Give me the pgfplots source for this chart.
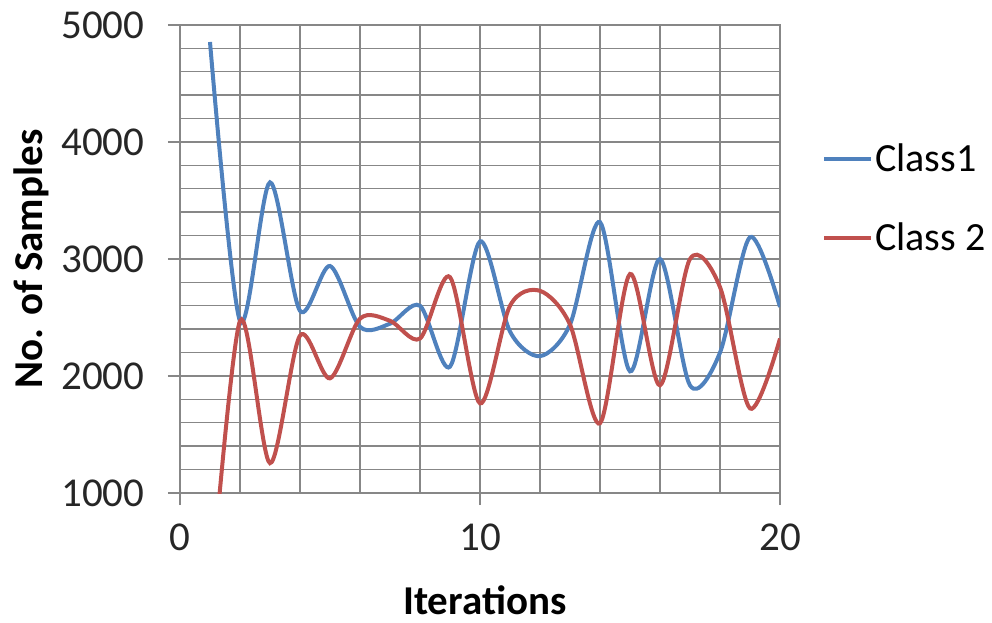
\documentclass[border=0pt]{standalone}
\usepackage{pgfplots}
\pgfplotsset{compat=1.18}
\usepackage{fontspec}
\setmainfont{Carlito}
\definecolor{cblue}{HTML}{4F81BD}
\definecolor{cred}{HTML}{C0504D}
\definecolor{cgrid}{RGB}{135,135,135}
\begin{document}
\begin{tikzpicture}
\useasboundingbox (-180pt,-130pt) rectangle (812pt,493pt);
\begin{axis}[
  scale only axis,
  width=600pt, height=468pt,
  xmin=0, xmax=20, ymin=1000, ymax=5000,
  xtick={0,10,20}, ytick={1000,2000,3000,4000,5000},
  minor x tick num=4, minor y tick num=4,
  grid=both,
  major grid style={cgrid, line width=1.4pt},
  minor grid style={cgrid, line width=1.4pt},
  axis line style={cgrid, line width=1.4pt},
  tick style={cgrid, line width=1.4pt},
  tick align=outside,
  major tick length=12pt, minor tick length=0pt,
  xtick pos=bottom, ytick pos=left,
  /pgf/number format/assume math mode=true,
  /pgf/number format/1000 sep={},
  tick label style={font=\fontsize{41}{48}\selectfont, text=black!85},
  xticklabel style={yshift=-15pt},
  yticklabel style={xshift=-20pt},
  label style={font=\bfseries\fontsize{41}{48}\selectfont},
  xlabel={Iterations},
  ylabel={No. of Samples},
  xlabel style={at={(axis description cs:0.508,-0.229)}, anchor=center},
  ylabel style={at={(axis description cs:-0.248,0.5)}, anchor=center},
  legend style={at={(1.07,0.63)}, anchor=west, draw=none, fill=none,
    font=\fontsize{40}{47}\selectfont, row sep=46pt, inner sep=0pt},
  legend cell align=left,
  legend image code/.code={\draw[#1] (0pt,0pt) -- (47pt,0pt);},
]
\addplot[cblue, line width=4pt, smooth] coordinates {
(1,4855) (2,2470) (3,3655) (4,2557) (5,2940) (6,2420) (7,2447) (8,2600) (9,2080) (10,3150)
(11,2380) (12,2170) (13,2440) (14,3315) (15,2040) (16,3000) (17,1920) (18,2200) (19,3187) (20,2590)};
\addlegendentry{Class1}
\addplot[cred, line width=4pt, smooth] coordinates {
(1,60) (2,2470) (3,1255) (4,2345) (5,1980) (6,2490) (7,2472) (8,2320) (9,2845) (10,1766)
(11,2600) (12,2728) (13,2440) (14,1596) (15,2872) (16,1920) (17,3000) (18,2760) (19,1723) (20,2320)};
\addlegendentry{Class 2}
\end{axis}
\end{tikzpicture}
\end{document}
